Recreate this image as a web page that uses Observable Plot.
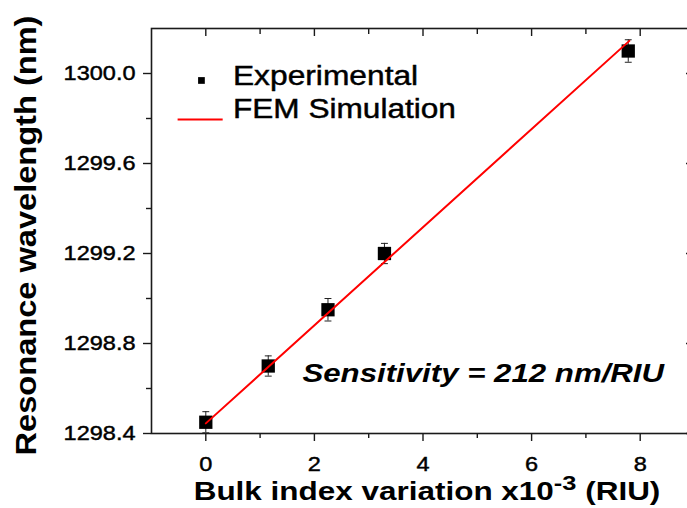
<!DOCTYPE html>
<html><head><meta charset="utf-8">
<script src="https://cdn.jsdelivr.net/npm/d3@7"></script>
<script src="https://cdn.jsdelivr.net/npm/@observablehq/plot@0.6"></script>
<style>body{margin:0;background:#fff} svg{display:block}</style>
</head><body><div id="chart"></div>
<script>
// ---- data ----
const bulkIndex  = [0, 1.15, 2.25, 3.29, 7.78];          // x10^-3 RIU
const wavelength = [1298.45, 1298.70, 1298.95, 1299.20, 1300.10]; // nm
const errorNm    = [0.047, 0.045, 0.05, 0.045, 0.05];
const femX = [0, 7.8];
const femY = [1298.445, 1300.145];
const xMajorTicks = [0, 2, 4, 6, 8];
const xMinorTicks = [1, 3, 5, 7];
const yMajorTicks = [1298.4, 1298.8, 1299.2, 1299.6, 1300.0];
const yMinorTicks = [1298.6, 1299.0, 1299.4, 1299.8];
const legendLabels = ["Experimental", "FEM Simulation"];
const annotation = "Sensitivity = 212 nm/RIU";
const xLabelParts = ["Bulk index variation x10", "-3", " (RIU)"];
const yLabel = "Resonance wavelength (nm)";

const points = bulkIndex.map((x, i) => ({x, y: wavelength[i], e: errorNm[i]}));
const fem = femX.map((x, i) => ({x, y: femY[i]}));

// legend / annotation placement (data coordinates)
const legend = {symX: -0.08, lineX1: -0.51, lineX2: 0.32, textX: 0.5,
                row1Y: 1299.969, row1TextY: 1299.947, row2Y: 1299.796, row2TextY: 1299.804};
const annot = {x: 1.78, y: 1298.628};

const hline = {draw(ctx, size) { const w = Math.sqrt(size); ctx.moveTo(-w / 2, 0); ctx.lineTo(w / 2, 0); }};
const axisColor = "#1a1a1a";

const chart = Plot.plot({
  width: 687, height: 508,
  marginLeft: 151, marginRight: -7, marginTop: 28, marginBottom: 75,
  x: {domain: [-1, 9]},
  y: {domain: [1298.4, 1300.2]},
  style: {fontFamily: "'Liberation Sans', Arial, sans-serif", fontSize: "21px", background: "#fff", color: "#000"},
  marks: [
    Plot.frame({stroke: axisColor, strokeWidth: 1.6}),
    // bottom axis
    Plot.axisX({ticks: xMajorTicks, tickSize: 8, tickPadding: 15, fontSize: 21, tickFormat: d => String(d), stroke: axisColor, strokeWidth: 1.4, label: null}),
    Plot.axisX({ticks: xMinorTicks, tickSize: 5, text: null, stroke: axisColor, strokeWidth: 1.4, label: null}),
    // top axis (inward ticks)
    Plot.axisX({anchor: "top", ticks: xMajorTicks, tickSize: 7, dy: 7, text: null, stroke: axisColor, strokeWidth: 1.4, label: null}),
    Plot.axisX({anchor: "top", ticks: xMinorTicks, tickSize: 5, dy: 5, text: null, stroke: axisColor, strokeWidth: 1.4, label: null}),
    // left axis
    Plot.axisY({ticks: yMajorTicks, tickSize: 8, tickPadding: 8, fontSize: 21, tickFormat: d3.format(".1f"), stroke: axisColor, strokeWidth: 1.4, label: null}),
    Plot.axisY({ticks: yMinorTicks, tickSize: 5, text: null, stroke: axisColor, strokeWidth: 1.4, label: null}),
    // right axis (inward ticks, mostly outside the picture)
    Plot.axisY({anchor: "right", ticks: yMajorTicks, tickSize: 9, dx: -9, text: null, stroke: axisColor, strokeWidth: 1.4, label: null}),
    Plot.axisY({anchor: "right", ticks: yMinorTicks, tickSize: 5, dx: -5, text: null, stroke: axisColor, strokeWidth: 1.4, label: null}),
    // error bars
    Plot.ruleX(points, {x: "x", y1: d => d.y - d.e, y2: d => d.y + d.e, stroke: "#222", strokeWidth: 1}),
    Plot.dot(points, {x: "x", y: d => d.y + d.e, symbol: hline, r: 3.9, stroke: "#222", strokeWidth: 1}),
    Plot.dot(points, {x: "x", y: d => d.y - d.e, symbol: hline, r: 3.9, stroke: "#222", strokeWidth: 1}),
    // experimental squares
    Plot.dot(points, {x: "x", y: "y", symbol: "square", r: 7.5, fill: "#000", stroke: null}),
    // FEM simulation line
    Plot.line(fem, {x: "x", y: "y", stroke: "#ff0000", strokeWidth: 2}),
    // legend
    Plot.dot([legendLabels[0]], {x: () => legend.symX, y: () => legend.row1Y, symbol: "square", r: 3.8, fill: "#000", stroke: null}),
    Plot.ruleY([legendLabels[1]], {y: () => legend.row2Y, x1: () => legend.lineX1, x2: () => legend.lineX2, stroke: "#ff0000", strokeWidth: 2}),
    Plot.text([legendLabels[0]], {x: () => legend.textX, y: () => legend.row1TextY, text: d => d, textAnchor: "start", lineAnchor: "bottom", fontSize: 27, fill: "#000"}),
    Plot.text([legendLabels[1]], {x: () => legend.textX, y: () => legend.row2TextY, text: d => d, textAnchor: "start", lineAnchor: "bottom", fontSize: 27, fill: "#000"}),
    // annotation
    Plot.text([annotation], {x: () => annot.x, y: () => annot.y, text: d => d, textAnchor: "start", lineAnchor: "bottom", fontSize: 26, fontWeight: "bold", fontStyle: "italic", fill: "#000"}),
    // axis titles
    Plot.text([xLabelParts.join("")], {frameAnchor: "bottom", text: d => d, textAnchor: "middle", lineAnchor: "bottom", dx: 4, dy: 66, fontSize: 26, fontWeight: "bold", fill: "#000"}),
    Plot.text([yLabel], {frameAnchor: "left", text: d => d, rotate: -90, textAnchor: "middle", lineAnchor: "bottom", dx: -116, dy: 4.5, fontSize: 30, fontWeight: "bold", fill: "#000"})
  ]
});

document.getElementById("chart").append(chart);

// widen glyphs to match the reference's wide lettering; slightly heavier regular text
const stretch = new Map([[legendLabels[0], 1.175], [legendLabels[1], 1.17], [annotation, 1.2], [yLabel, 1.086]]);
d3.select(chart).selectAll("text").each(function () {
  const g = this.parentNode;
  const label = (g && g.getAttribute && g.getAttribute("aria-label")) || "";
  const isTick = label.includes("tick label");
  let f = isTick ? 1.12 : stretch.get(this.textContent);
  if (isTick || legendLabels.includes(this.textContent)) {
    this.style.stroke = "#000";
    this.style.strokeWidth = "0.45px";
  }
  if (this.textContent === xLabelParts.join("")) {
    const t = d3.select(this);
    t.text(null);
    t.append("tspan").text(xLabelParts[0]);
    t.append("tspan").attr("font-size", 21).attr("dy", -10).text(xLabelParts[1]);
    t.append("tspan").attr("dy", 10).text(xLabelParts[2]);
    f = 1.21;
  }
  if (f) {
    const L = this.getComputedTextLength();
    this.setAttribute("textLength", (L * f).toFixed(1));
    this.setAttribute("lengthAdjust", "spacingAndGlyphs");
  }
});
</script>
</body></html>
